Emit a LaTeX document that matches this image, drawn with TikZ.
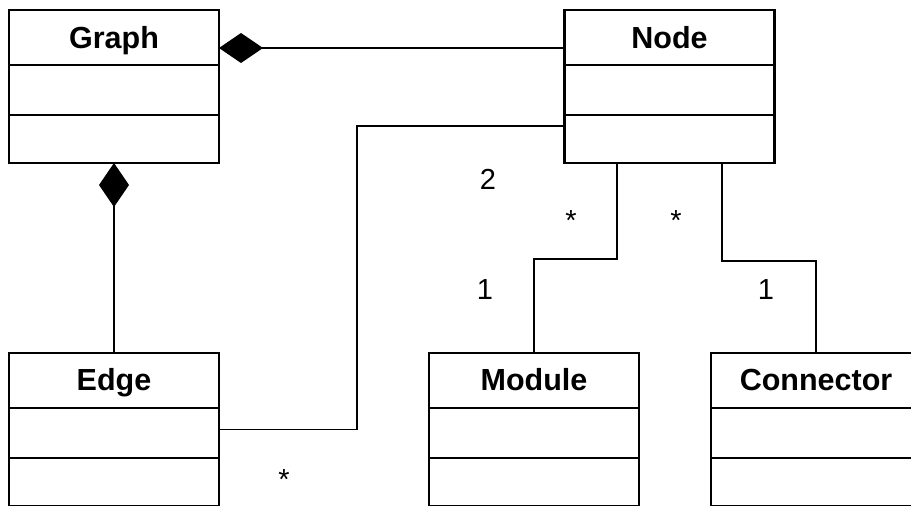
\documentclass[tikz,border=0pt]{standalone}
\usepackage{fontspec}
\setmainfont{Liberation Sans}
\usetikzlibrary{arrows.meta}
\begin{document}
\begin{tikzpicture}[x=1pt,y=-1pt,
  cls/.style={draw, line width=2.4pt, minimum width=210pt, minimum height=153pt, inner sep=0pt, outer sep=0pt},
  divider/.style={line width=2.4pt},
  ctitle/.style={font=\bfseries\fontsize{30.5}{36}\selectfont, anchor=base, inner sep=0pt},
  lab/.style={font=\fontsize{29}{34}\selectfont, anchor=base, inner sep=0pt},
  conn/.style={line width=1.3pt},
  comp/.style={conn, {Diamond[length=44pt,width=30pt]}-}
]
\useasboundingbox (0,0) rectangle (911,506);
% classes
\foreach \n/\x/\y/\t in {graph/114/86.5/Graph, nodecls/669.5/86.5/Node, edge/114/429.2/Edge, module/534/429.2/Module, connector/816/429.2/Connector}{
  \node[cls] (\n) at (\x,\y) {};
  \draw[divider] ([yshift=-55pt]\n.north west) -- ([yshift=-55pt]\n.north east);
  \draw[divider] ([yshift=-105pt]\n.north west) -- ([yshift=-105pt]\n.north east);
  \node[ctitle] (\n-title) at ([yshift=-38pt]\n.north) {\t};
}
% connectors
\draw[comp] (graph.east |- 0,48) -- (nodecls.west |- 0,48);
\draw[comp] (graph.south) -- (edge.north);
\coordinate (bend) at (357,126);
\draw[conn] (edge.east) -| (bend) -- (nodecls.west |- bend);
\coordinate (m1) at (617,259);
\draw[conn] (nodecls.south -| m1) -- (m1) -| (module.north);
\coordinate (c1) at (722,261);
\draw[conn] (nodecls.south -| c1) -- (c1) -| (connector.north);
% multiplicities
\node[lab] (l2) at (488,189) {2};
\node[lab] (s1) at (571,230) {*};
\node[lab] (s2) at (676,230) {*};
\node[lab] (o1) at (485,299) {1};
\node[lab] (o2) at (766,299) {1};
\node[lab] (s3) at (284,489) {*};
\end{tikzpicture}
\end{document}
